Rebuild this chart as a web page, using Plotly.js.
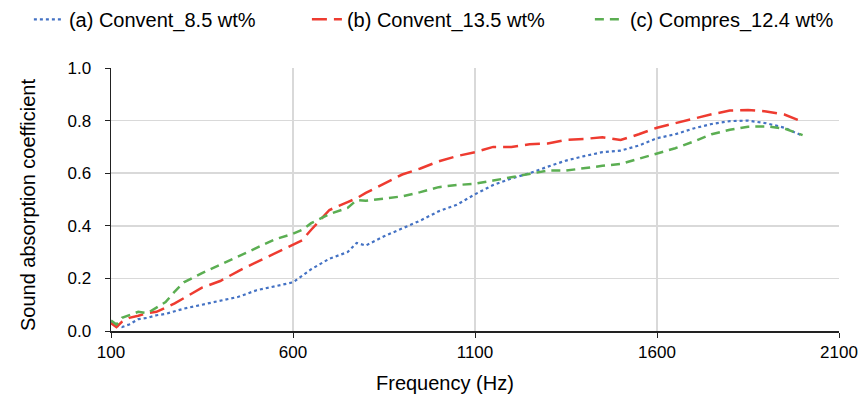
<!DOCTYPE html>
<html>
<head>
<meta charset="utf-8">
<script src="https://cdn.plot.ly/plotly-3.0.1.min.js"></script>
<style>html,body{margin:0;padding:0;background:#fff;}#chart{width:862px;height:394px;}</style>
</head>
<body>
<div id="chart"></div>
<script>
var freq = [100,115,130,150,175,200,225,250,275,300,350,400,450,500,550,600,625,650,700,750,775,800,850,900,950,1000,1050,1100,1150,1200,1250,1300,1350,1400,1450,1500,1550,1600,1650,1700,1750,1800,1850,1900,1950,2000];
var conv85 = [0.035,0.02,0.015,0.025,0.045,0.05,0.06,0.065,0.075,0.085,0.1,0.115,0.13,0.155,0.17,0.185,0.21,0.235,0.275,0.30,0.335,0.325,0.36,0.39,0.42,0.455,0.48,0.52,0.555,0.58,0.60,0.625,0.648,0.665,0.68,0.686,0.705,0.733,0.748,0.77,0.787,0.798,0.80,0.79,0.773,0.742];
var conv135 = [0.03,0.015,0.035,0.05,0.058,0.068,0.073,0.088,0.105,0.125,0.165,0.19,0.228,0.262,0.295,0.33,0.345,0.385,0.46,0.49,0.505,0.525,0.56,0.595,0.618,0.645,0.665,0.68,0.70,0.70,0.71,0.713,0.727,0.73,0.737,0.726,0.748,0.773,0.79,0.808,0.824,0.838,0.84,0.835,0.823,0.795];
var comp124 = [0.04,0.025,0.05,0.06,0.073,0.068,0.09,0.11,0.15,0.185,0.22,0.252,0.285,0.318,0.348,0.37,0.385,0.41,0.445,0.468,0.498,0.495,0.503,0.512,0.528,0.547,0.555,0.56,0.572,0.585,0.598,0.61,0.61,0.62,0.628,0.635,0.655,0.673,0.695,0.72,0.748,0.765,0.777,0.778,0.77,0.745];
var names = ['(a) Convent_8.5 wt%','(b) Convent_13.5 wt%','(c) Compres_12.4 wt%'];
var xTicks = [100,600,1100,1600,2100];
var yTicks = [0,0.2,0.4,0.6,0.8,1.0];
var xTitle = 'Frequency (Hz)';
var yTitle = 'Sound absorption coefficient';

var traces = [
  {x: freq, y: conv85, name: names[0], legend: 'legend', mode: 'lines', line: {color: '#4472C4', width: 2.2, dash: 'dot'}},
  {x: freq, y: conv135, name: names[1], legend: 'legend2', mode: 'lines', line: {color: '#EE3B30', width: 2.5, dash: '15px,7px'}},
  {x: freq, y: comp124, name: names[2], legend: 'legend3', mode: 'lines', line: {color: '#5BAE52', width: 2.5, dash: '9px,6px'}}
];
var font = 'Liberation Sans, Arial, Helvetica, sans-serif';
function leg(xp) {
  return {orientation: 'h', x: xp, xanchor: 'left', y: 1.185, yanchor: 'middle',
          font: {family: font, size: 20, color: '#000'}, itemwidth: 30,
          bgcolor: 'rgba(0,0,0,0)', borderwidth: 0};
}
var layout = {
  width: 862, height: 394,
  margin: {l: 111, r: 23, t: 68, b: 63, autoexpand: false},
  paper_bgcolor: '#fff', plot_bgcolor: '#fff',
  font: {family: font, size: 17, color: '#000'},
  showlegend: true,
  legend: leg(-0.1128),
  legend2: leg(0.2691),
  legend3: leg(0.6578),
  xaxis: {range: [100, 2100], tickvals: xTicks, ticktext: xTicks.map(String),
          showgrid: true, gridcolor: '#d9d9d9', gridwidth: 1.5,
          showline: true, linecolor: '#222', linewidth: 1.5,
          ticks: 'outside', ticklen: 5, tickcolor: '#222', zeroline: false,
          tickfont: {size: 17}},
  yaxis: {range: [0, 1], tickvals: yTicks, ticktext: yTicks.map(function(v){return v.toFixed(1);}),
          showgrid: true, gridcolor: '#d9d9d9', gridwidth: 1.5,
          showline: true, linecolor: '#222', linewidth: 1.5,
          ticks: 'outside', ticklen: 5, tickcolor: '#222', zeroline: false,
          ticklabelstandoff: 10, tickfont: {size: 17}},
  annotations: [
    {text: xTitle, xref: 'paper', yref: 'paper', x: 0.459, y: -0.198, xanchor: 'center', yanchor: 'middle',
     showarrow: false, font: {family: font, size: 20, color: '#000'}},
    {text: yTitle, xref: 'paper', yref: 'paper', x: -0.114, y: 0.479, xanchor: 'center', yanchor: 'middle',
     textangle: -90, showarrow: false, font: {family: font, size: 20, color: '#000'}}
  ]
};
Plotly.newPlot('chart', traces, layout, {displayModeBar: false, staticPlot: true});
</script>
</body>
</html>
